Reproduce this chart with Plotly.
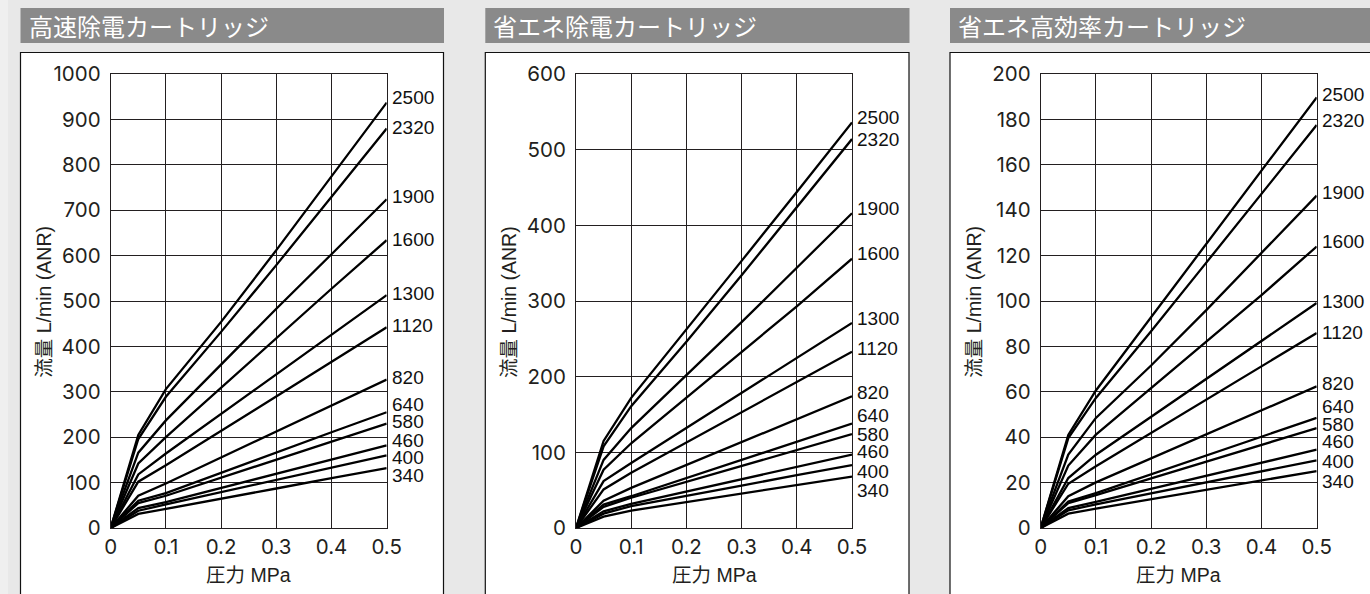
import plotly.graph_objects as go

# ---------------- data ----------------
pressure = [0, 0.05, 0.1, 0.2, 0.3, 0.4, 0.5]
models = ["2500", "2320", "1900", "1600", "1300", "1120", "820", "640", "580", "460", "400", "340"]

titles = ["高速除電カートリッジ", "省エネ除電カートリッジ", "省エネ高効率カートリッジ"]
y_max = [1000, 600, 200]
y_step = [100, 100, 20]
x_ticks = [0, 0.1, 0.2, 0.3, 0.4, 0.5]
x_tick_text = ["0", "0.1", "0.2", "0.3", "0.4", "0.5"]

flow_high_speed = [
    [0, 205, 306, 454, 612, 775, 937],
    [0, 196, 289, 432, 579, 729, 880],
    [0, 166, 237, 360, 483, 603, 724],
    [0, 142, 200, 309, 419, 527, 634],
    [0, 118, 164, 251, 338, 426, 513],
    [0, 102, 138, 214, 290, 366, 442],
    [0, 71, 98, 155, 212, 270, 327],
    [0, 60, 77, 122, 166, 211, 255],
    [0, 55, 71, 111, 150, 190, 230],
    [0, 44, 57, 88, 120, 151, 182],
    [0, 38, 52, 79, 106, 133, 160],
    [0, 31, 42, 64, 87, 110, 132],
]
flow_energy_saving = [
    [0, 115, 172, 262, 353, 444, 536],
    [0, 108, 161, 246, 334, 424, 514],
    [0, 90, 132, 202, 272, 344, 416],
    [0, 77, 112, 172, 233, 293, 356],
    [0, 62, 86, 132, 179, 225, 271],
    [0, 51, 73, 113, 153, 193, 233],
    [0, 36, 53, 83, 114, 144, 174],
    [0, 31, 42, 66, 90, 114, 138],
    [0, 28, 40, 61, 82, 103, 124],
    [0, 22, 32, 48, 65, 81, 97],
    [0, 19, 29, 42, 56, 70, 83],
    [0, 15, 23, 34, 46, 57, 68],
]
flow_high_efficiency = [
    [0, 41, 60.6, 92.8, 125, 157, 189.7],
    [0, 39.6, 57.3, 86.7, 116.9, 147.2, 177.5],
    [0, 32.3, 48.5, 71.6, 96, 121.2, 146.4],
    [0, 27.5, 41.1, 61.6, 82, 102.6, 124],
    [0, 22, 32.3, 49, 65.7, 82.4, 99.1],
    [0, 19.5, 27.2, 41.9, 56.6, 71.2, 85.9],
    [0, 14, 20.1, 30.7, 41.3, 51.8, 62.4],
    [0, 11.7, 15.4, 23.7, 31.9, 40.2, 48.5],
    [0, 11, 14.5, 21.9, 29.3, 36.6, 44],
    [0, 8.8, 11.5, 17.3, 23, 28.8, 34.5],
    [0, 7.8, 10.4, 15.3, 20.1, 25, 29.8],
    [0, 6.3, 8.5, 12.7, 16.8, 21, 25.1],
]
panels = [flow_high_speed, flow_energy_saving, flow_high_efficiency]

# ---------------- layout constants (pixels) ----------------
W, H = 1370, 594
plot_left = [110.7, 576.0, 1040.7]
plot_width = 276.0
plot_top, plot_bottom = 74.0, 528.0
box_left = [20.5, 485.3, 950.0]
box_right = [443.5, 909.0, 1380.0]
# label vertical nudges (px, up = positive) to avoid overlaps
label_nudge = [
    [5, 1, 3, 1, 2, 2, 2, 8, 2, 5, -2, -7],
    [5, 0, 5, 5, 4, 3, 4, 8, 0, 3, -6, -14],
    [3, 5, 3, 5, 2, 1, 3, 11, 4, 8, -1, -10],
]

BG = "#e8e8e8"
BAR = "#8a8a8a"
INK = "#231f20"
LAT = "Liberation Sans"
TICK = "Inter, Liberation Sans, sans-serif"
JP = "Liberation Sans, Noto Sans CJK JP, sans-serif"


def px(x):
    return x / W


def py(y):
    return 1 - y / H


fig = go.Figure()
shapes = []
annotations = []

# left edge strip
shapes.append(dict(type="rect", xref="paper", yref="paper", x0=0, x1=px(8), y0=0, y1=1,
                   fillcolor="#efefef", line=dict(width=0), layer="below"))

for i in range(3):
    ax = "" if i == 0 else str(i + 1)
    xname, yname = "x" + ax, "y" + ax
    # title bar
    shapes.append(dict(type="rect", xref="paper", yref="paper",
                       x0=px(box_left[i]), x1=px(box_right[i] + 0.5), y0=py(43), y1=py(8),
                       fillcolor=BAR, line=dict(width=0), layer="below"))
    annotations.append(dict(xref="paper", yref="paper", x=px(box_left[i] + 6), y=py(25.5),
                            text=titles[i], showarrow=False, xanchor="left", yanchor="middle",
                            font=dict(family="Noto Sans CJK JP", size=24, color="white")))
    # white chart box
    shapes.append(dict(type="rect", xref="paper", yref="paper",
                       x0=px(box_left[i]), x1=px(box_right[i]), y0=py(600), y1=py(52.5),
                       fillcolor="white", line=dict(width=1.2, color="#111"), layer="below"))

    for k, m in enumerate(models):
        fig.add_trace(go.Scatter(x=pressure, y=panels[i][k], mode="lines",
                                 line=dict(color="black", width=2.3), xaxis=xname, yaxis=yname,
                                 showlegend=False, hoverinfo="skip"))
        annotations.append(dict(xref=xname, yref=yname, x=pressure[-1], y=panels[i][k][-1],
                                text=m, showarrow=False, xanchor="left", yanchor="middle",
                                xshift=4, yshift=label_nudge[i][k], borderpad=0,
                                font=dict(family=LAT, size=19, color="#111")))

    xd = [px(plot_left[i]), px(plot_left[i] + plot_width)]
    yd = [py(plot_bottom), py(plot_top)]
    fig.update_layout(**{
        "xaxis" + ax: dict(domain=xd, range=[0, 0.5], tickvals=x_ticks, ticktext=x_tick_text,
                           showgrid=True, gridcolor=INK, gridwidth=1, zeroline=False,
                           showline=True, mirror=True, linecolor=INK, linewidth=1,
                           ticks="", ticklabelstandoff=0, anchor=yname, fixedrange=True,
                           automargin=False,
                           tickfont=dict(family=TICK, size=20.5, color=INK)),
        "yaxis" + ax: dict(domain=yd, range=[0, y_max[i]], dtick=y_step[i], tick0=0,
                           showgrid=True, gridcolor=INK, gridwidth=1, zeroline=False,
                           showline=True, mirror=True, linecolor=INK, linewidth=1,
                           ticks="", ticklabelstandoff=5, anchor=xname, fixedrange=True,
                           automargin=False,
                           tickfont=dict(family=TICK, size=20.5, color=INK)),
    })
    # axis titles
    cx = plot_left[i] + plot_width / 2
    annotations.append(dict(xref="paper", yref="paper", x=px(cx), y=py(575), text="圧力 MPa",
                            showarrow=False, xanchor="center", yanchor="middle",
                            font=dict(family=JP, size=19.5, color=INK)))
    annotations.append(dict(xref="paper", yref="paper", x=px(plot_left[i] - 67), y=py(302),
                            text="流量 L/min (ANR)", textangle=-90, showarrow=False,
                            xanchor="center", yanchor="middle",
                            font=dict(family=JP, size=19.5, color=INK)))

fig.update_layout(width=W, height=H,
                  margin=dict(l=0, r=0, t=0, b=0, pad=0, autoexpand=False),
                  paper_bgcolor=BG, plot_bgcolor=BG, shapes=shapes, annotations=annotations,
                  showlegend=False)

fig.write_html("out.html", config={"displayModeBar": False},
               post_script="document.body.style.margin='0';document.body.style.overflow='hidden';")
